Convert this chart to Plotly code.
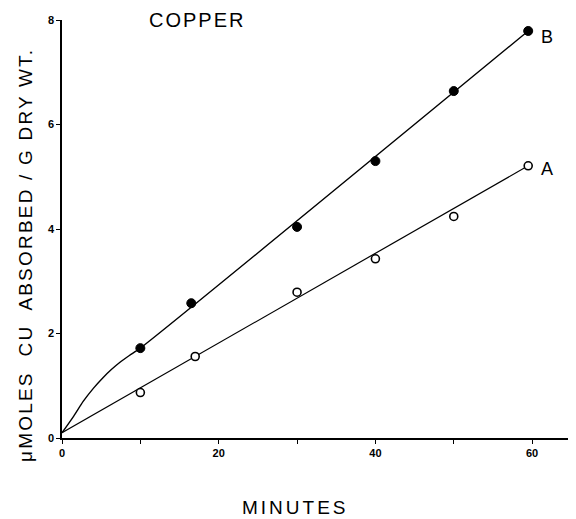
import plotly.graph_objects as go

# Data
minutes_B = [10, 16.5, 30, 40, 50, 59.5]
umoles_B = [1.72, 2.58, 4.04, 5.30, 6.64, 7.79]
minutes_A = [10, 17, 30, 40, 50, 59.5]
umoles_A = [0.87, 1.56, 2.79, 3.43, 4.24, 5.21]

# Hand-drawn fitted curves
fit_B_x = [0, 1.5, 2.7, 4, 5.2, 6.3, 7.4, 8.6, 10, 59.5]
fit_B_y = [0.1, 0.42, 0.70, 0.95, 1.15, 1.31, 1.45, 1.58, 1.72, 7.79]
fit_A_x = [0, 59.5]
fit_A_y = [0.1, 5.21]

x_tickvals = [0, 10, 20, 30, 40, 50, 60]
x_ticktext = ["0", "", "20", "", "40", "", "60"]
y_tickvals = [0, 2, 4, 6, 8]
y_ticktext = ["0", "2", "4", "6", "8"]

FONT = "Liberation Sans"

# page has an 8px body margin; figure geometry
W, H = 568, 511
L, R, T, B = 54, 0, 12, 81
PW, PH = W - L - R, H - T - B


def px(xpage):
    return (xpage - 8 - L) / PW


def py(ypage):
    return (H - B - (ypage - 8)) / PH


def spaced(text, sp):
    return f'<span style="letter-spacing:{sp}px">{text}</span>'


fig = go.Figure()
fig.add_trace(go.Scatter(x=fit_B_x, y=fit_B_y, mode="lines",
                         line=dict(color="black", width=1.4, shape="spline", smoothing=0.6), hoverinfo="skip"))
fig.add_trace(go.Scatter(x=fit_A_x, y=fit_A_y, mode="lines",
                         line=dict(color="black", width=1.2), hoverinfo="skip"))
fig.add_trace(go.Scatter(x=minutes_B, y=umoles_B, mode="markers",
                         marker=dict(color="black", size=9, line=dict(color="black", width=1)), cliponaxis=False))
fig.add_trace(go.Scatter(x=minutes_A, y=umoles_A, mode="markers",
                         marker=dict(color="white", size=8, line=dict(color="black", width=1.6)), cliponaxis=False))

fig.update_layout(
    width=W, height=H,
    margin=dict(l=L, r=R, t=T, b=B),
    plot_bgcolor="white", paper_bgcolor="white",
    showlegend=False,
    xaxis=dict(range=[0, 65.6], showgrid=False, zeroline=False, showline=True, linecolor="black", linewidth=1.5,
               ticks="outside", ticklen=4, tickwidth=1.2, tickcolor="black",
               tickvals=x_tickvals, ticktext=x_ticktext,
               tickfont=dict(family=FONT, size=11, color="black", weight="bold")),
    yaxis=dict(range=[0, 8], showgrid=False, zeroline=False, showline=True, linecolor="black", linewidth=1.5,
               ticks="outside", ticklen=4, tickwidth=1.2, tickcolor="black",
               tickvals=y_tickvals, ticktext=y_ticktext,
               tickfont=dict(family=FONT, size=11, color="black", weight="bold")),
    annotations=[
        dict(text=spaced("COPPER", 2), x=px(197), y=py(20), xref="paper", yref="paper",
             showarrow=False, xanchor="center", yanchor="middle",
             font=dict(family=FONT, size=20, color="black")),
        dict(text="B", x=px(547), y=py(37), xref="paper", yref="paper",
             showarrow=False, xanchor="center", yanchor="middle",
             font=dict(family=FONT, size=18, color="black")),
        dict(text="A", x=px(547), y=py(169), xref="paper", yref="paper",
             showarrow=False, xanchor="center", yanchor="middle",
             font=dict(family=FONT, size=18, color="black")),
        dict(text=spaced("MINUTES", 3), x=px(295), y=py(507), xref="paper", yref="paper",
             showarrow=False, xanchor="center", yanchor="middle",
             font=dict(family=FONT, size=19, color="black")),
        dict(text=spaced("μMOLES  CU  ABSORBED / G DRY WT.", 2.2), textangle=-90,
             x=px(25), y=py(255), xref="paper", yref="paper",
             showarrow=False, xanchor="center", yanchor="middle",
             font=dict(family=FONT, size=19, color="black")),
    ],
)

fig.write_html("out.html")
